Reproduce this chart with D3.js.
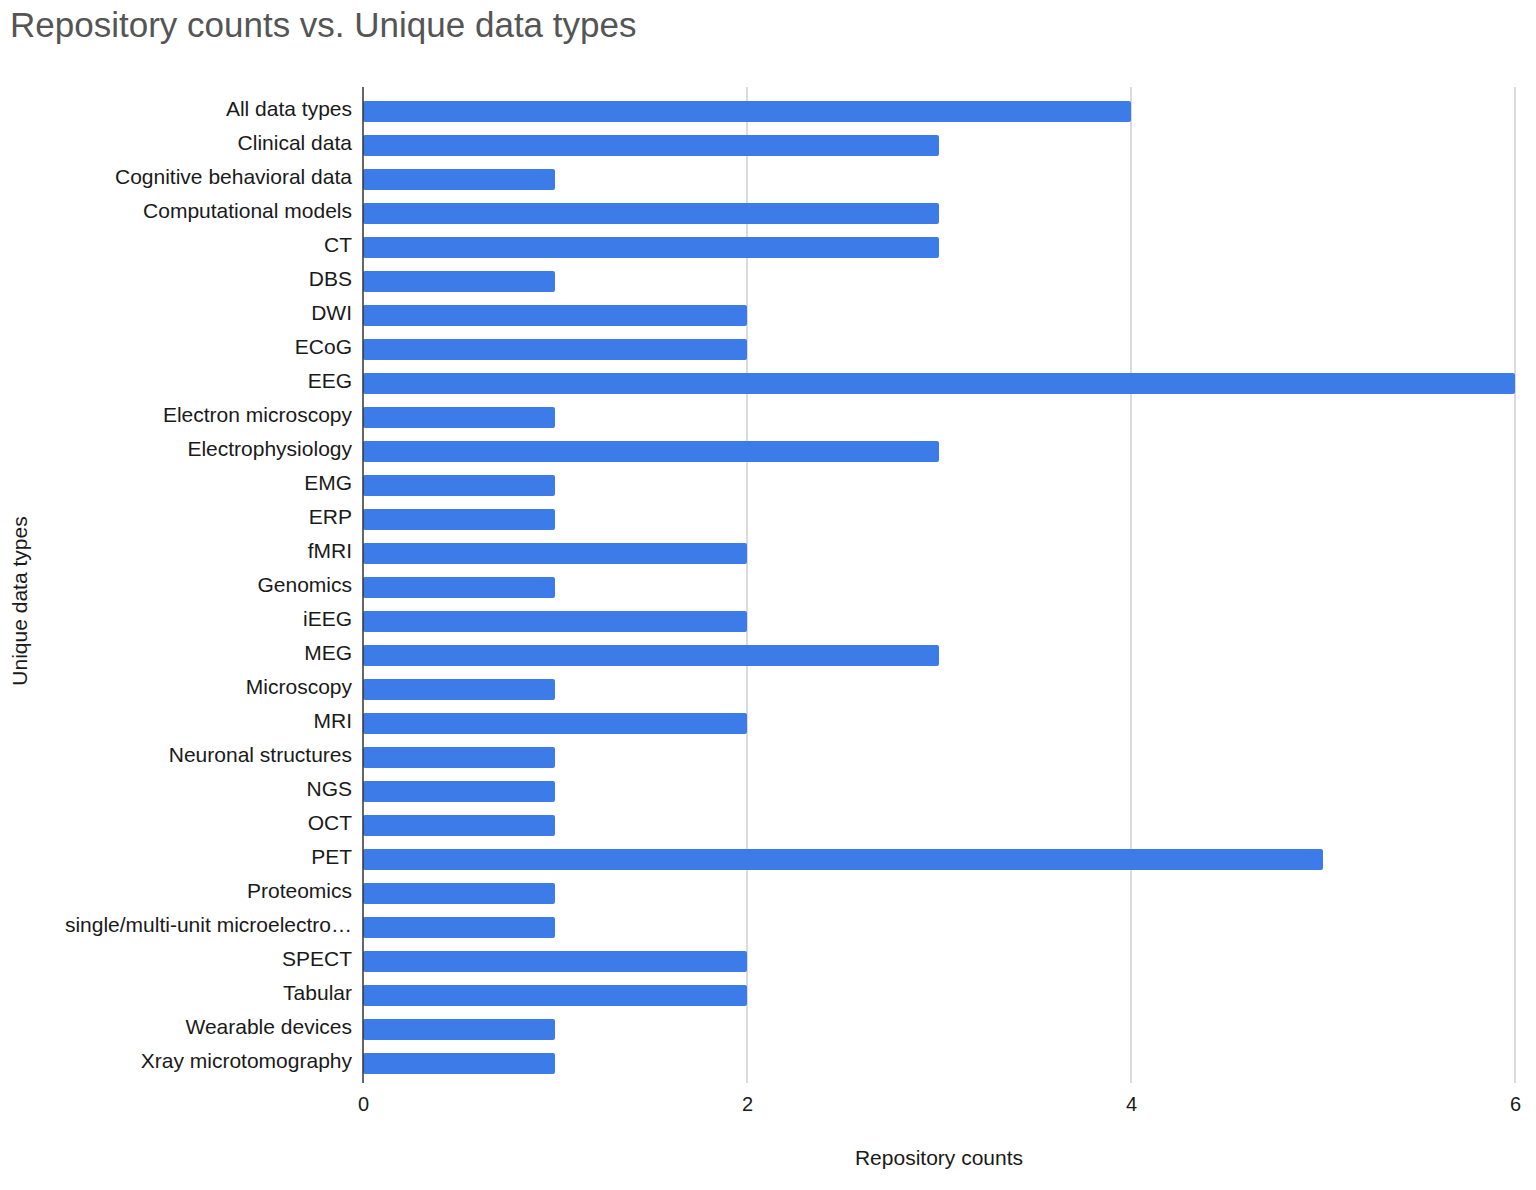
<!DOCTYPE html>
<html>
<head>
<meta charset="utf-8">
<script src="https://cdn.jsdelivr.net/npm/d3@7"></script>
<style>
  body { margin: 0; background: #fff; }
  svg { display: block; font-family: "Liberation Sans", Arial, sans-serif; }
</style>
</head>
<body>
<svg id="chart" viewBox="0 0 1536 1190" width="1536" height="1190"></svg>
<script>
const categories = [
  "All data types", "Clinical data", "Cognitive behavioral data", "Computational models",
  "CT", "DBS", "DWI", "ECoG", "EEG", "Electron microscopy", "Electrophysiology", "EMG",
  "ERP", "fMRI", "Genomics", "iEEG", "MEG", "Microscopy", "MRI", "Neuronal structures",
  "NGS", "OCT", "PET", "Proteomics", "single/multi-unit microelectro…", "SPECT",
  "Tabular", "Wearable devices", "Xray microtomography"
];
const counts = [4, 3, 1, 3, 3, 1, 2, 2, 6, 1, 3, 1, 1, 2, 1, 2, 3, 1, 2, 1, 1, 1, 5, 1, 1, 2, 2, 1, 1];
const xTicks = [0, 2, 4, 6];

const title = "Repository counts vs. Unique data types";
const xTitle = "Repository counts";
const yTitle = "Unique data types";

const data = categories.map((c, i) => ({ cat: c, value: counts[i] }));

const width = 1536, height = 1190;
// plot frame (grid lines / zero line)
const plot = { top: 87, bottom: 1083, left: 363, right: 1515 };

const svg = d3.select("#chart");

const x = d3.scaleLinear()
  .domain([0, 6])
  .range([plot.left, plot.right]);

const y = d3.scaleBand()
  .domain(categories)
  .range([88, 1087])
  .paddingInner(0.38)
  .paddingOuter(0.38);

// title
svg.append("text")
  .attr("x", 10)
  .attr("y", 37)
  .attr("fill", "#555")
  .style("font-size", "35px")
  .text(title);

// grid lines
svg.append("g")
  .selectAll("line")
  .data(xTicks.filter((d) => d > 0))
  .enter()
  .append("line")
  .attr("x1", (d) => x(d))
  .attr("x2", (d) => x(d))
  .attr("y1", plot.top)
  .attr("y2", plot.bottom)
  .attr("stroke", "#cfcfcf")
  .attr("stroke-width", 1.5);

// bars
svg.append("g")
  .selectAll("rect")
  .data(data)
  .enter()
  .append("rect")
  .attr("x", x(0))
  .attr("y", (d) => y(d.cat))
  .attr("width", (d) => x(d.value) - x(0))
  .attr("height", y.bandwidth())
  .attr("rx", 2)
  .attr("fill", "#3d7be8");

// zero axis
svg.append("line")
  .attr("x1", x(0))
  .attr("x2", x(0))
  .attr("y1", plot.top)
  .attr("y2", plot.bottom)
  .attr("stroke", "#333")
  .attr("stroke-width", 1.5);

// y axis labels
const yAxis = d3.axisLeft(y).tickSize(0).tickPadding(11);
const yAxisG = svg.append("g")
  .attr("transform", `translate(${x(0)},-2)`)
  .call(yAxis);
yAxisG.select(".domain").remove();
yAxisG.selectAll("text")
  .attr("fill", "#1a1a1a")
  .style("font-size", "21px")
  .style("font-family", "'Liberation Sans', Arial, sans-serif");

// x axis labels
const xAxis = d3.axisBottom(x).tickValues(xTicks).tickFormat(d3.format("d")).tickSize(0).tickPadding(14);
const xAxisG = svg.append("g")
  .attr("transform", `translate(0,${plot.bottom})`)
  .call(xAxis);
xAxisG.select(".domain").remove();
xAxisG.selectAll("text")
  .attr("fill", "#1a1a1a")
  .style("font-size", "20px")
  .style("font-family", "'Liberation Sans', Arial, sans-serif");

// axis titles
svg.append("text")
  .attr("x", (x(0) + x(6)) / 2)
  .attr("y", 1165)
  .attr("text-anchor", "middle")
  .attr("fill", "#1a1a1a")
  .style("font-size", "21px")
  .text(xTitle);

svg.append("text")
  .attr("transform", `translate(27,601) rotate(-90)`)
  .attr("text-anchor", "middle")
  .attr("fill", "#1a1a1a")
  .style("font-size", "21px")
  .text(yTitle);
</script>
</body>
</html>
